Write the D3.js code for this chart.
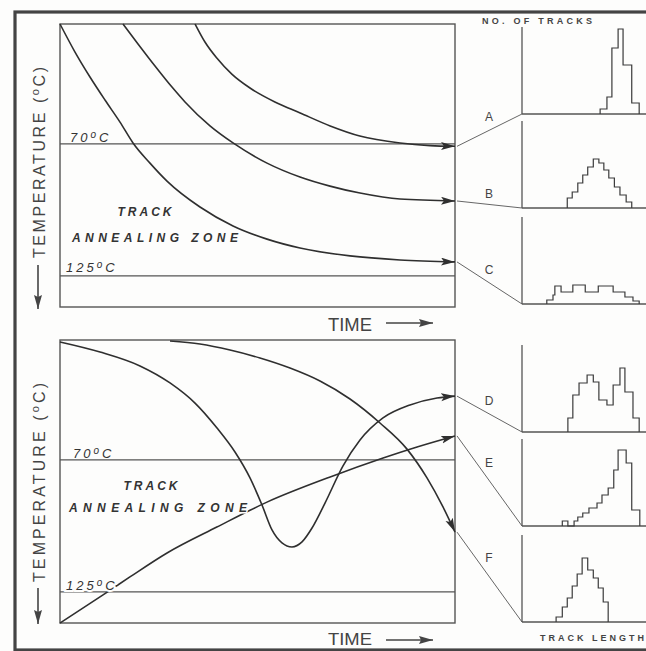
<!DOCTYPE html>
<html><head><meta charset="utf-8">
<script src="https://cdn.jsdelivr.net/npm/d3@7"></script>
<style>
html,body{margin:0;padding:0;background:#fdfdfc;}
svg{display:block;font-family:"Liberation Sans",Arial,sans-serif;}
</style></head><body>
<svg id="c" width="646" height="651"></svg>
<script>
// ---------------- data ----------------
const timeDomain = [0, 100];
const tempDomain = [20, 138];
const zoneLimits = [70, 125];
const zoneLabels = ["70", "125"];

// upper panel: cooling paths (time, temperature °C)
const curveA = [[34.2,20],[36.7,27.5],[39.7,34.2],[43.5,40.9],[48.1,46.7],[54.4,52.5],[60.8,57.1],[68.4,62.5],[75.9,66.7],[86.1,69.6],[93.7,70.7],[100,71]];
const curveB = [[15.95,20],[19.75,28.3],[24.05,37.5],[28.35,46.3],[31.65,52.5],[37.97,62.5],[43.8,69.6],[52.41,78.0],[60.76,83.8],[68.35,87.6],[75.95,90.5],[86.08,93.0],[100,93.8]];
const curveC = [[0,20],[3.8,31.7],[7.59,42.1],[11.39,51.7],[15.19,60.9],[18.48,69.6],[22.78,78.0],[27.09,85.5],[35.44,96.3],[43.8,104.2],[52.41,109.7],[60.76,113.4],[73.42,116.7],[86.08,118.4],[100,119.2]];
// lower panel: complex thermal histories
const curveD = [[0,20.8],[10.13,25.0],[20.25,30.8],[27.85,37.9],[34.18,46.3],[39.75,56.7],[44.3,66.7],[48.1,77.5],[51.14,88.8],[53.67,99.2],[56.2,104.6],[58.73,106.3],[61.27,104.2],[63.8,98.4],[67.09,88.0],[71.65,72.5],[75.95,61.7],[81.77,52.5],[88.61,47.1],[95.44,44.2],[100,43.4]];
const curveE = [[0,138],[10.9,126.3],[17.7,118.8],[27.1,108.8],[39.7,98.0],[52.4,87.6],[68.4,77.1],[81.8,69.2],[90.4,64.6],[100,60.0]];
const curveF = [[27.85,20.4],[35.44,21.7],[43.04,24.2],[50.63,27.5],[58.23,31.7],[65.82,37.1],[73.42,44.6],[81.01,54.6],[87.85,65.5],[92.91,77.5],[96.96,89.6],[100,100.1]];

// track length histograms (bin edges in length units, counts)
const lengthDomain = [0, 20];
const histAEdges = [12.6,13.7,14.5,15.5,16.3,17.7,18.9];
const histACounts = [5,17,66,85,49,11];
const histBEdges = [7.3,8.1,9.0,9.8,10.6,11.5,12.4,13.2,14.0,14.9,15.8,16.8,17.7];
const histBCounts = [10,16,25,33,41,49,45,38,30,21,13,6];
const histCEdges = [4.0,5.0,5.3,6.3,8.2,10.2,12.3,14.7,16.6,17.9,18.9];
const histCCounts = [4,9,18,12,19,12,18,12,7,3];
const histDEdges = [7.4,8.2,9.2,10.5,11.5,12.4,13.7,14.7,15.8,16.6,17.9,18.9];
const histDCounts = [14,37,49,57,50,32,27,47,64,40,14];
const histEEdges = [6.5,7.4,8.4,9.0,9.8,10.8,12.1,12.9,13.9,14.8,15.5,16.8,17.7,19.0];
const histECounts = [5,0,5,9,13,18,23,31,38,56,76,63,16];
const histFEdges = [5.5,6.5,7.3,8.1,8.9,9.7,10.6,11.5,12.3,13.1,13.9];
const histFCounts = [5,15,24,36,48,64,52,44,34,20];
const histNames = ["A","B","C","D","E","F"];

// ---------------- drawing ----------------
const svg = d3.select("#c");
const ink = "#2f2f2f", boxInk = "#555", bg = "#fdfdfc";

const defs = svg.append("defs");
defs.append("marker").attr("id","ah").attr("markerUnits","userSpaceOnUse")
  .attr("markerWidth",16).attr("markerHeight",9).attr("refX",14).attr("refY",4)
  .attr("orient","auto")
  .append("path").attr("d","M0,0 L14,4 L0,8 L3,4 Z").attr("fill",ink);
defs.append("marker").attr("id","ahs").attr("markerUnits","userSpaceOnUse")
  .attr("markerWidth",16).attr("markerHeight",9).attr("refX",14).attr("refY",4)
  .attr("orient","auto")
  .append("path").attr("d","M0,0 L14,4 L0,8 L2,4 Z").attr("fill","#444");

// outer frame
svg.append("rect").attr("x",15).attr("y",12).attr("width",700).attr("height",638)
  .attr("fill","none").attr("stroke","#444").attr("stroke-width",3.2);

const tScale = d3.scaleLinear().domain(timeDomain).range([60,455]);
const panels = [
  {top:24, bottom:307, curves:[curveA,curveB,curveC], zoneTitleY:[216,242], trackX:146,
   labelY:[142,272], axisLabelBottom:258, axisLabelTop:67, arrowY:[265,309], timeY:331, timeSize:19, timeArrowY:323},
  {top:340, bottom:623, curves:[curveD,curveE,curveF], zoneTitleY:[490,512], trackX:152,
   labelY:[458,590], axisLabelBottom:582, axisLabelTop:383, arrowY:[588,624], timeY:645, timeSize:17, timeArrowY:640}
];

const lenScale = d3.scaleLinear().domain(lengthDomain).range([522,646]);
const histEdges = [histAEdges,histBEdges,histCEdges,histDEdges,histEEdges,histFEdges];
const histCounts = [histACounts,histBCounts,histCCounts,histDCounts,histECounts,histFCounts];
const histBase = [114,208,304,432,526,622];
const letterY = [121,198,274,405,467,562];

panels.forEach((p, pi) => {
  const y = d3.scaleLinear().domain(tempDomain).range([p.top, p.bottom]);
  const g = svg.append("g");
  g.append("rect").attr("x",tScale(0)).attr("y",y(tempDomain[0]))
    .attr("width",tScale(100)-tScale(0)).attr("height",y(tempDomain[1])-y(tempDomain[0]))
    .attr("fill","none").attr("stroke",boxInk).attr("stroke-width",1.4);
  zoneLimits.forEach(z => {
    g.append("line").attr("x1",tScale(0)).attr("x2",tScale(100))
      .attr("y1",y(z)).attr("y2",y(z)).attr("stroke",boxInk).attr("stroke-width",1.2);
  });
  const line = d3.line().x(d=>tScale(d[0])).y(d=>y(d[1])).curve(d3.curveMonotoneX);
  p.curves.forEach((c, ci) => {
    g.append("path").attr("d",line(c)).attr("fill","none").attr("stroke",ink)
      .attr("stroke-width",1.6).attr("marker-end","url(#ah)");
    const hi = pi*3 + ci;
    const last = c[c.length-1];
    g.append("line").attr("x1",tScale(last[0])+2).attr("y1",y(last[1]))
      .attr("x2",lenScale(0)).attr("y2",histBase[hi])
      .attr("stroke","#666").attr("stroke-width",1);
  });
  zoneLimits.forEach((z, zi) => {
    const t = g.append("text").attr("x",pi===0?(zi===0?70:66):(zi===0?73:66))
      .attr("y",p.labelY[zi]).attr("font-size",13).attr("fill","#333")
      .attr("font-style","italic").attr("letter-spacing",3)
      .style("paint-order","stroke").attr("stroke",bg).attr("stroke-width",zi===1&&pi===1?4:0);
    t.append("tspan").text(zoneLabels[zi]);
    t.append("tspan").attr("font-size",10).attr("dy",-4).text("o");
    t.append("tspan").attr("dy",4).text("C");
  });
  g.append("text").attr("x",p.trackX).attr("y",p.zoneTitleY[0]).attr("text-anchor","middle")
    .attr("font-size",12).attr("font-weight","bold").attr("font-style","italic")
    .attr("letter-spacing",3).attr("fill","#333").text("TRACK");
  g.append("text").attr("x",pi===0?72:69).attr("y",p.zoneTitleY[1])
    .attr("font-size",12).attr("font-weight","bold").attr("font-style","italic")
    .attr("textLength",pi===0?166:178).attr("lengthAdjust","spacing")
    .style("paint-order","stroke").attr("stroke",bg).attr("stroke-width",3)
    .attr("fill","#333").text("ANNEALING ZONE");
  const yt = g.append("text").attr("transform",`translate(45,${p.axisLabelBottom}) rotate(-90)`)
    .attr("font-size",16).attr("fill","#444")
    .attr("textLength",p.axisLabelBottom-p.axisLabelTop).attr("lengthAdjust","spacing");
  yt.append("tspan").text("TEMPERATURE (");
  yt.append("tspan").attr("font-size",11).attr("dy",-6).text("o");
  yt.append("tspan").attr("dy",6).text("C)");
  g.append("line").attr("x1",38).attr("x2",38).attr("y1",p.arrowY[0]).attr("y2",p.arrowY[1])
    .attr("stroke","#444").attr("stroke-width",1.6).attr("marker-end","url(#ahs)");
  g.append("text").attr("x",328).attr("y",p.timeY).attr("font-size",p.timeSize).attr("fill","#444")
    .attr("textLength",44).attr("lengthAdjust","spacingAndGlyphs").text("TIME");
  g.append("line").attr("x1",386).attr("x2",433).attr("y1",p.timeArrowY).attr("y2",p.timeArrowY)
    .attr("stroke","#444").attr("stroke-width",1.4).attr("marker-end","url(#ahs)");
});

histEdges.forEach((edges, i) => {
  const base = histBase[i];
  const cy = d3.scaleLinear().domain([0,100]).range([base, base-100]);
  const g = svg.append("g");
  g.append("line").attr("x1",lenScale(0)).attr("x2",lenScale(0)).attr("y1",base).attr("y2",cy(87))
    .attr("stroke",boxInk).attr("stroke-width",1.3);
  g.append("line").attr("x1",lenScale(0)).attr("x2",650).attr("y1",base).attr("y2",base)
    .attr("stroke",boxInk).attr("stroke-width",1.3);
  const counts = histCounts[i];
  const pts = [[edges[0],0]];
  counts.forEach((c,k) => { pts.push([edges[k],c],[edges[k+1],c]); });
  pts.push([edges[edges.length-1],0]);
  g.append("path").attr("d", d3.line().x(d=>lenScale(d[0])).y(d=>cy(d[1]))(pts))
    .attr("fill","none").attr("stroke","#3a3a3a").attr("stroke-width",1.2);
  g.append("text").attr("x",489).attr("y",letterY[i]).attr("text-anchor","middle")
    .attr("font-size",12).attr("fill","#444").text(histNames[i]);
});

svg.append("text").attr("x",482).attr("y",24).attr("font-size",9).attr("font-weight","bold").attr("fill","#444")
  .attr("textLength",110).attr("lengthAdjust","spacing").text("NO. OF TRACKS");
svg.append("text").attr("x",540).attr("y",641).attr("font-size",9).attr("font-weight","bold").attr("fill","#444")
  .attr("textLength",104).attr("lengthAdjust","spacing").text("TRACK LENGTH");
</script>
</body></html>
